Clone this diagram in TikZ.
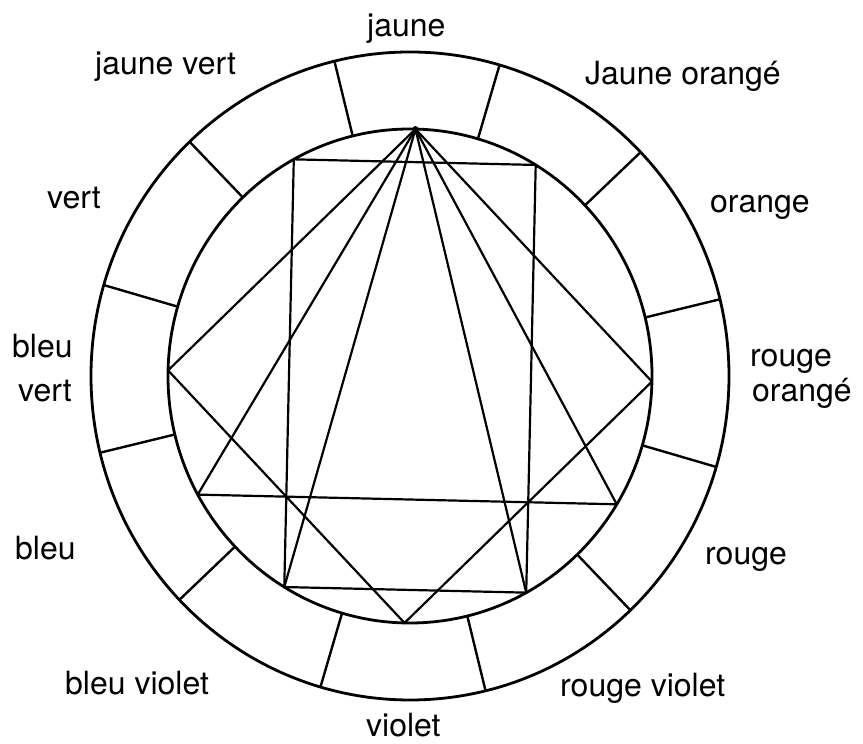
\documentclass[tikz,border=0pt]{standalone}
\usepackage{fontspec}
\setmainfont{TeX Gyre Heros}
\begin{document}
\begin{tikzpicture}[x=1pt,y=1pt,
  ring/.style={line width=2.8pt},
  divider/.style={line width=2.4pt},
  chord/.style={line width=2.2pt, line join=round},
  lab/.style={anchor=base west, inner sep=0pt, font=\fontsize{32}{38}\selectfont}]
\useasboundingbox (0,0) rectangle (863,744);
\def\azero{88.7}
\begin{scope}[shift={(410,368)}]
  % rings
  \draw[ring] (0,0) ellipse [x radius=319, y radius=324];
  \draw[ring] (0,0) ellipse [x radius=242, y radius=247];
  % colour positions on the inner circle
  \foreach \k in {0,...,11}{
    \coordinate (c\k) at ({\azero+30*\k}:242 and 247);
    \coordinate (di\k) at ({\azero+15+30*\k}:242 and 247);
    \coordinate (do\k) at ({\azero+15+30*\k}:319 and 324);
    \draw[divider] (di\k) -- (do\k);
  }
  % square: jaune, bleu vert, violet, rouge orange
  \draw[chord] (c0) -- (c3) -- (c6) -- (c9) -- cycle;
  % rectangle: jaune vert, bleu violet, rouge violet, jaune orange
  \draw[chord] (c1) -- (c5) -- (c7) -- (c11) -- cycle;
  % triangle: jaune, bleu, rouge
  \draw[chord] (c0) -- (c4) -- (c8) -- cycle;
  % triangle: jaune, bleu violet, rouge violet
  \draw[chord] (c5) -- (c0) -- (c7);
  \fill (c0) circle (3pt);
\end{scope}
% labels (image y converted: 744 - y)
\node[lab] (l0) at (367,{744-37}) {jaune};
\node[lab] (l1) at (95,{744-75}) {jaune vert};
\node[lab] (l2) at (47,{744-209}) {vert};
\node[lab] (l3a) at (12,{744-358}) {bleu};
\node[lab] (l3b) at (18,{744-402}) {vert};
\node[lab] (l4) at (15,{744-560}) {bleu};
\node[lab] (l5) at (65,{744-695}) {bleu violet};
\node[lab] (l6) at (366,{744-737}) {violet};
\node[lab] (l7) at (560,{744-697}) {rouge violet};
\node[lab] (l8) at (705,{744-565}) {rouge};
\node[lab] (l9a) at (750,{744-367}) {rouge};
\node[lab] (l9b) at (752,{744-402}) {orangé};
\node[lab] (l10) at (710,{744-213}) {orange};
\node[lab] (l11) at (585,{744-85}) {Jaune orangé};
\end{tikzpicture}
\end{document}
